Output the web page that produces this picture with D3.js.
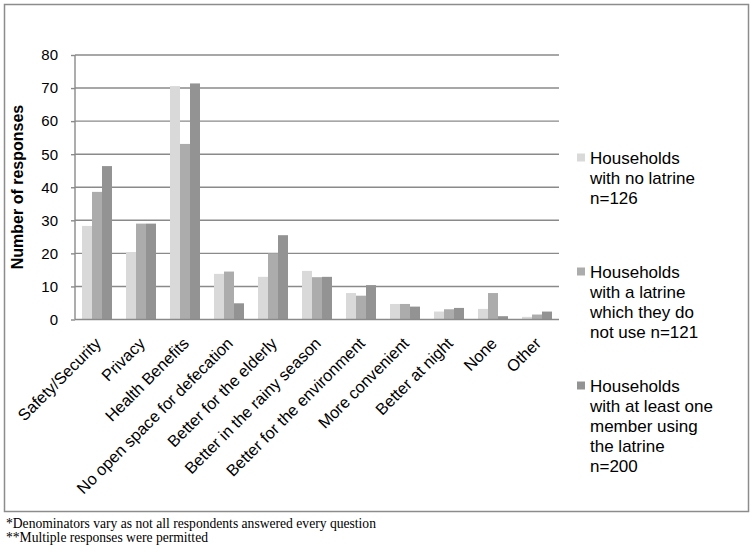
<!DOCTYPE html>
<html><head><meta charset="utf-8">
<script src="https://cdn.jsdelivr.net/npm/d3@7/dist/d3.min.js"></script>
<style>body{margin:0;background:#fff}svg{display:block}</style>
</head><body>
<svg id="c" width="755" height="552"></svg>
<script>
const categories = ["Safety/Security","Privacy","Health Benefits","No open space for defecation","Better for the elderly","Better in the rainy season","Better for the environment","More convenient","Better at night","None","Other"];
const seriesNames = [
  ["Households","with no latrine","n=126"],
  ["Households","with a latrine","which they do","not use n=121"],
  ["Households","with at least one","member using","the latrine","n=200"]
];
const noLatrine   = [28.3,20.4,70.6,13.8,12.9,14.7,8.0,4.7,2.4,3.2,0.8];
const latrineNoUse= [38.6,29.0,53.1,14.5,20.0,12.8,7.2,4.7,3.1,8.0,1.5];
const latrineUse  = [46.4,29.0,71.4,4.9,25.5,12.9,10.4,3.9,3.5,1.0,2.4];
const yTicks = [0,10,20,30,40,50,60,70,80];
const footnotes = ["*Denominators vary as not all respondents answered every question","**Multiple responses were permitted"];

const colors = ["#d9d9d9","#acacac","#939393"];
const series = [noLatrine, latrineNoUse, latrineUse];
const svg = d3.select("#c");
const font = "Liberation Sans, Arial, sans-serif";

// outer frame
svg.append("rect").attr("x",4.5).attr("y",4.5).attr("width",744).attr("height",507)
  .attr("fill","none").attr("stroke","#8c8c8c").attr("stroke-width",1.5);

const L=75, R=559, T=55, B=319.5;
const x = d3.scaleBand().domain(categories).range([L,R]).paddingInner(0).paddingOuter(0);
const x1 = d3.scaleBand().domain([0,1,2]).range([0,x.bandwidth()]).paddingOuter(0.7).paddingInner(0);
const y = d3.scaleLinear().domain([0,80]).range([B,T]);

// gridlines
svg.append("g").selectAll("line").data(yTicks.filter(d=>d>0)).join("line")
  .attr("x1",L).attr("x2",R).attr("y1",d=>y(d)).attr("y2",d=>y(d))
  .attr("stroke","#8a8a8a").attr("stroke-width",1.4);

// bars
const g = svg.append("g").selectAll("g").data(categories).join("g")
  .attr("transform",d=>`translate(${x(d)},0)`);
g.selectAll("rect").data((d,i)=>series.map((s,k)=>({k,v:s[i]}))).join("rect")
  .attr("x",d=>x1(d.k)).attr("width",x1.bandwidth())
  .attr("y",d=>y(d.v)).attr("height",d=>y(0)-y(d.v))
  .attr("fill",d=>colors[d.k]);

// y axis
const ya = svg.append("g").attr("transform",`translate(${L},0)`)
  .call(d3.axisLeft(y).tickValues(yTicks).tickSize(4).tickPadding(13));
ya.select(".domain").attr("stroke","#8a8a8a").attr("stroke-width",1.4).attr("d",`M0,${T}V${B}`);
ya.selectAll(".tick line").attr("stroke","#8a8a8a").attr("stroke-width",1.4);
ya.selectAll("text").attr("font-family",font).attr("font-size",15).attr("fill","#000");

// x axis
const xa = svg.append("g").attr("transform",`translate(0,${B})`)
  .call(d3.axisBottom(x).tickSize(0).tickPadding(0));
xa.select(".domain").attr("stroke","#8a8a8a").attr("stroke-width",1.4).attr("d",`M${L},0H${R}`);
xa.selectAll("text").attr("font-family",font).attr("font-size",16.3).attr("fill","#000")
  .attr("text-anchor","end").attr("dy",null).attr("y",0)
  .attr("transform","translate(5,25) rotate(-45)");

// y title
svg.append("text").attr("transform","translate(23,187) rotate(-90)")
  .attr("text-anchor","middle").attr("font-family",font).attr("font-size",16).attr("font-weight","bold")
  .text("Number of responses");

// legend
const legTop=[158,272,386];
seriesNames.forEach((lines,k)=>{
  svg.append("rect").attr("x",577).attr("y",legTop[k]-4.5).attr("width",8).attr("height",8).attr("fill",colors[k]);
  const t = svg.append("text").attr("font-family",font).attr("font-size",17).attr("fill","#000");
  lines.forEach((ln,j)=>t.append("tspan").attr("x",590).attr("y",legTop[k]+6+j*20).text(ln));
});

// footnotes
svg.append("g").selectAll("text").data(footnotes).join("text")
  .attr("x",6).attr("y",(d,i)=>528+i*14).attr("font-family","Liberation Serif, Times New Roman, serif")
  .attr("font-size",13.6).attr("fill","#000").text(d=>d);
</script>
</body></html>
